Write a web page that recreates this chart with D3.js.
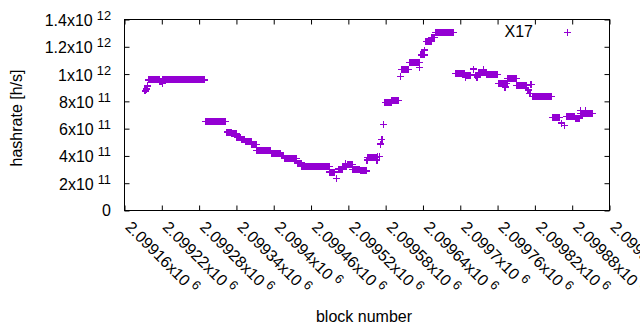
<!DOCTYPE html>
<html>
<head>
<meta charset="utf-8">
<script src="https://cdn.jsdelivr.net/npm/d3@7/dist/d3.min.js"></script>
<style>
  html, body { margin: 0; padding: 0; background: #fff; }
  svg { display: block; }
  text { font-family: "Liberation Sans", Arial, sans-serif; fill: #000; }
</style>
</head>
<body>
<svg id="chart" width="640" height="330"></svg>
<script>
// ---- Data (runs of constant hashrate per block range) ----
const runStart = [2099193,2099195,2099197,2099198,2099199,2099217,2099221,2099222,
  2099290,2099325,2099333,2099341,2099348,2099354,2099365,2099373,2099396,2099412,
  2099417,2099438,2099445,2099490,2099501,2099504,2099511,2099518,2099515,2099527,
  2099539,2099550,2099551,2099566,2099567,2099570,2099572,2099574,2099576,2099579,
  2099590,2099604,2099606,2099618,2099635,2099637,2099643,2099645,2099654,2099660,
  2099692,2099708,2099709,2099721,2099724,2099727,2099729,2099738,2099743,2099761,
  2099772,2099776,2099791,2099809,2099812,2099813,2099817,2099848,2099863,2099868,
  2099871,2099885,2099893,2099894,2099902];
const runEnd = [2099193,2099195,2099197,2099216,2099199,2099219,2099221,2099289,
  2099323,2099332,2099340,2099347,2099353,2099364,2099372,2099395,2099411,2099416,
  2099437,2099444,2099489,2099498,2099501,2099510,2099517,2099526,2099515,2099538,
  2099549,2099550,2099565,2099566,2099567,2099570,2099572,2099574,2099576,2099589,
  2099600,2099604,2099616,2099634,2099635,2099642,2099643,2099653,2099659,2099689,
  2099707,2099717,2099709,2099721,2099728,2099727,2099742,2099738,2099760,2099775,
  2099772,2099790,2099807,2099809,2099812,2099815,2099847,2099860,2099863,2099868,
  2099884,2099892,2099912,2099894,2099902];
const runHash = [8.76e11,8.9e11,9.13e11,9.57e11,9.62e11,9.46e11,9.29e11,9.57e11,
  6.54e11,5.75e11,5.61e11,5.35e11,5.22e11,5.04e11,4.84e11,4.42e11,4.18e11,4.03e11,
  3.81e11,3.48e11,3.23e11,2.82e11,2.37e11,3.04e11,3.2e11,3.36e11,3.45e11,2.99e11,
  2.9e11,3.7e11,3.86e11,3.7e11,3.97e11,3.94e11,4.87e11,5.2e11,6.32e11,7.93e11,
  8.05e11,9.81e11,1.032e12,1.085e12,1.048e12,1.14e12,1.176e12,1.24e12,1.268e12,1.305e12,
  1.006e12,9.93e11,9.75e11,1.037e12,9.93e11,9.78e11,1.008e12,1.03e12,9.97e11,9.29e11,
  9.05e11,9.69e11,9.16e11,8.83e11,8.59e11,9.25e11,8.37e11,6.82e11,6.41e11,6.23e11,
  6.9e11,6.78e11,7.09e11,7.33e11,7.3e11];

const seriesName = "X17";
const xTickValues = [2099160,2099220,2099280,2099340,2099400,2099460,2099520,
  2099580,2099640,2099700,2099760,2099820,2099880,2099940];
const xTickMantissa = ["2.09916","2.09922","2.09928","2.09934","2.0994","2.09946","2.09952",
  "2.09958","2.09964","2.0997","2.09976","2.09982","2.09988","2.09994"];
const xTickExponent = "6";
const yTickValues = [0,2e11,4e11,6e11,8e11,1e12,1.2e12,1.4e12];
const yTickMantissa = ["0","2x10","4x10","6x10","8x10","1x10","1.2x10","1.4x10"];
const yTickExponent = ["","11","11","11","11","12","12","12"];

// ---- expand runs to one point per block ----
const points = [];
runStart.forEach((s, i) => {
  for (let b = s; b <= runEnd[i]; b++) points.push({ b: b, h: runHash[i] });
});

// ---- layout ----
const L = 124.5, R = 609.5, T = 19.5, B = 210.5;
const color = "#9400d3";
const fs = 16, sfs = 12.8;

const svg = d3.select("#chart");
const x = d3.scaleLinear().domain([2099160, 2099940]).range([L, R]);
const y = d3.scaleLinear().domain([0, 1.4e12]).range([B, T]);

// axes with inward ticks (mirrored)
const tickLen = 5;
const axB = svg.append("g").attr("transform", `translate(0,${B})`)
  .call(d3.axisBottom(x).tickValues(xTickValues).tickSize(-tickLen).tickFormat(""));
const axT = svg.append("g").attr("transform", `translate(0,${T})`)
  .call(d3.axisTop(x).tickValues(xTickValues).tickSize(-tickLen).tickFormat(""));
const axL = svg.append("g").attr("transform", `translate(${L},0)`)
  .call(d3.axisLeft(y).tickValues(yTickValues).tickSize(-tickLen).tickFormat(""));
const axR = svg.append("g").attr("transform", `translate(${R},0)`)
  .call(d3.axisRight(y).tickValues(yTickValues).tickSize(-tickLen).tickFormat(""));
[axB, axT, axL, axR].forEach(g => {
  g.select(".domain").remove();
  g.selectAll(".tick line").attr("stroke", "#000").attr("stroke-width", 1);
});

// frame
svg.append("rect").attr("x", L).attr("y", T).attr("width", R - L).attr("height", B - T)
  .attr("fill", "none").attr("stroke", "#000").attr("stroke-width", 1);

// y tick labels
yTickValues.forEach((v, i) => {
  const hasExp = yTickExponent[i] !== "";
  const t = svg.append("text")
    .attr("x", 111).attr("y", y(v) + (hasExp ? 6.5 : 5.5))
    .attr("text-anchor", "end").attr("font-size", fs);
  t.append("tspan").text(yTickMantissa[i]);
  if (hasExp) t.append("tspan").attr("dx", 4).attr("dy", -6).attr("font-size", sfs).text(yTickExponent[i]);
});

// x tick labels rotated
xTickValues.forEach((v, i) => {
  const t = svg.append("text")
    .attr("transform", `translate(${x(v)},228) rotate(45)`)
    .attr("text-anchor", "start").attr("font-size", fs);
  t.append("tspan").text(xTickMantissa[i] + "x10");
  t.append("tspan").attr("dx", 4).attr("dy", -6).attr("font-size", sfs).text(xTickExponent);
});

// axis titles
svg.append("text").attr("x", 364).attr("y", 322).attr("text-anchor", "middle")
  .attr("font-size", fs).text("block number");
svg.append("text").attr("transform", "translate(21.5,118) rotate(-90)")
  .attr("text-anchor", "middle").attr("font-size", fs).text("hashrate [h/s]");

// points
const plus = "M-3.5,0H3.5M0,-3.5V3.5";
svg.append("g").attr("shape-rendering", "crispEdges")
  .selectAll("path").data(points).join("path")
  .attr("transform", d => `translate(${x(d.b)},${y(d.h)})`)
  .attr("d", plus).attr("fill", "none").attr("stroke", color).attr("stroke-width", 1.2);

// legend
svg.append("text").attr("x", 533).attr("y", 37).attr("text-anchor", "end")
  .attr("font-size", fs).text(seriesName);
svg.append("path").attr("transform", "translate(567.5,32.5)").attr("d", plus)
  .attr("shape-rendering", "crispEdges")
  .attr("fill", "none").attr("stroke", color).attr("stroke-width", 1.2);
</script>
</body>
</html>
